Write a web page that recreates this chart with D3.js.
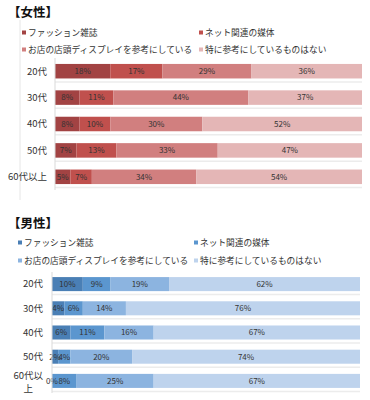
<!DOCTYPE html>
<html>
<head>
<meta charset="utf-8">
<script src="https://cdn.jsdelivr.net/npm/d3@7"></script>
<style>
  body { margin: 0; background: #fff; }
  svg { display: block; font-family: "Noto Sans CJK JP", sans-serif; }
</style>
</head>
<body>
<svg width="370" height="400"></svg>
<script>
// data
const ages = ['20代', '30代', '40代', '50代', '60代以上'];
const seriesNames = ['ファッション雑誌', 'ネット関連の媒体', 'お店の店頭ディスプレイを参考にしている', '特に参考にしているものはない'];

const womenFashion = [18, 8, 8, 7, 5];
const womenNet = [17, 11, 10, 13, 7];
const womenShop = [29, 44, 30, 33, 34];
const womenNone = [36, 37, 52, 47, 54];

const menFashion = [10, 4, 6, 2, 0];
const menNet = [9, 6, 11, 4, 8];
const menShop = [19, 14, 16, 20, 25];
const menNone = [62, 76, 67, 74, 67];

const womenColors = ['#a24343', '#c0504d', '#d17f7f', '#e4b6b6'];
const menColors = ['#4a7fb5', '#5b96cf', '#8cb4e0', '#bed3ed'];

const svg = d3.select('svg');

function buildRows(a, b, c, d) {
  return ages.map((age, i) => ({ age: age, s0: a[i], s1: b[i], s2: c[i], s3: d[i] }));
}

function drawChart(cfg) {
  const g = svg.append('g');

  // title
  g.append('text')
    .attr('x', 8).attr('y', cfg.titleY)
    .attr('font-size', 12.5).attr('font-weight', 'bold').attr('fill', '#111')
    .text(cfg.title);

  // legend, two columns
  seriesNames.forEach((name, i) => {
    const lx = i % 2 === 0 ? cfg.legendX[0] : cfg.legendX[1];
    const ly = i < 2 ? cfg.legendY[0] : cfg.legendY[1];
    g.append('rect')
      .attr('x', lx).attr('y', ly - 2.5).attr('width', 4).attr('height', 4)
      .attr('fill', cfg.colors[i]);
    g.append('text')
      .attr('x', lx + 6).attr('y', ly).attr('dy', '0.35em')
      .attr('font-size', 8.7).attr('fill', '#333')
      .text(name);
  });

  const rows = buildRows(...cfg.values);
  const keys = ['s0', 's1', 's2', 's3'];
  const stacked = d3.stack().keys(keys)(rows);

  const x = d3.scaleLinear().domain([0, 100]).range(cfg.xRange);
  const y = d3.scaleBand().domain(ages).range(cfg.yRange)
    .paddingInner(cfg.pad).paddingOuter(cfg.pad / 2);

  // faint row separators
  g.selectAll('.sep')
    .data(ages)
    .join('line')
    .attr('x1', cfg.xRange[0]).attr('x2', cfg.xRange[1])
    .attr('y1', d => y(d) + y.bandwidth() + 3.5)
    .attr('y2', d => y(d) + y.bandwidth() + 3.5)
    .attr('stroke', '#ececec').attr('stroke-width', 1.5);

  // bars
  g.selectAll('.layer')
    .data(stacked)
    .join('g')
    .attr('fill', (d, i) => cfg.colors[i])
    .selectAll('rect')
    .data(d => d)
    .join('rect')
    .attr('x', d => x(d[0]))
    .attr('y', d => y(d.data.age))
    .attr('width', d => x(d[1]) - x(d[0]))
    .attr('height', y.bandwidth());

  // value labels
  g.selectAll('.lab')
    .data(stacked)
    .join('g')
    .selectAll('text')
    .data(d => d.map(v => ({ v: v, key: d.key })))
    .join('text')
    .attr('x', d => (x(d.v[0]) + x(d.v[1])) / 2)
    .attr('y', d => y(d.v.data.age) + y.bandwidth() / 2)
    .attr('dy', '0.35em')
    .attr('text-anchor', 'middle')
    .attr('font-size', 8).attr('fill', '#333')
    .text(d => d.v.data[d.key] + '%');

  // category axis
  g.append('line')
    .attr('x1', cfg.xRange[0]).attr('x2', cfg.xRange[0])
    .attr('y1', cfg.yRange[0]).attr('y2', cfg.yRange[1])
    .attr('stroke', '#d9d9d9');

  const labels = g.selectAll('.cat')
    .data(ages)
    .join('text')
    .attr('text-anchor', 'end')
    .attr('font-size', 9.5).attr('fill', '#333')
    .attr('x', cfg.labelX)
    .attr('y', d => y(d) + y.bandwidth() / 2);

  labels.each(function(d) {
    const t = d3.select(this);
    if (cfg.wrapLast && d === '60代以上') {
      t.append('tspan').attr('x', cfg.labelX).attr('dy', '-0.25em').text('60代以');
      t.append('tspan').attr('x', cfg.labelX - 10).attr('dy', '1.45em').text('上');
    } else {
      t.attr('dy', '0.35em').text(d);
    }
  });
}

// women
svg.append('line')
  .attr('x1', 20).attr('x2', 20).attr('y1', 20).attr('y2', 200)
  .attr('stroke', '#e6e6e6');

drawChart({
  title: '【女性】',
  titleY: 17,
  legendX: [22, 199],
  legendY: [33, 50],
  colors: womenColors,
  values: [womenFashion, womenNet, womenShop, womenNone],
  xRange: [55, 362],
  yRange: [58, 190],
  pad: 0.45,
  labelX: 47,
  wrapLast: false
});

// men
drawChart({
  title: '【男性】',
  titleY: 228,
  legendX: [18, 194],
  legendY: [243, 261],
  colors: menColors,
  values: [menFashion, menNet, menShop, menNone],
  xRange: [52, 360],
  yRange: [272, 393],
  pad: 0.42,
  labelX: 43,
  wrapLast: true
});
</script>
</body>
</html>
